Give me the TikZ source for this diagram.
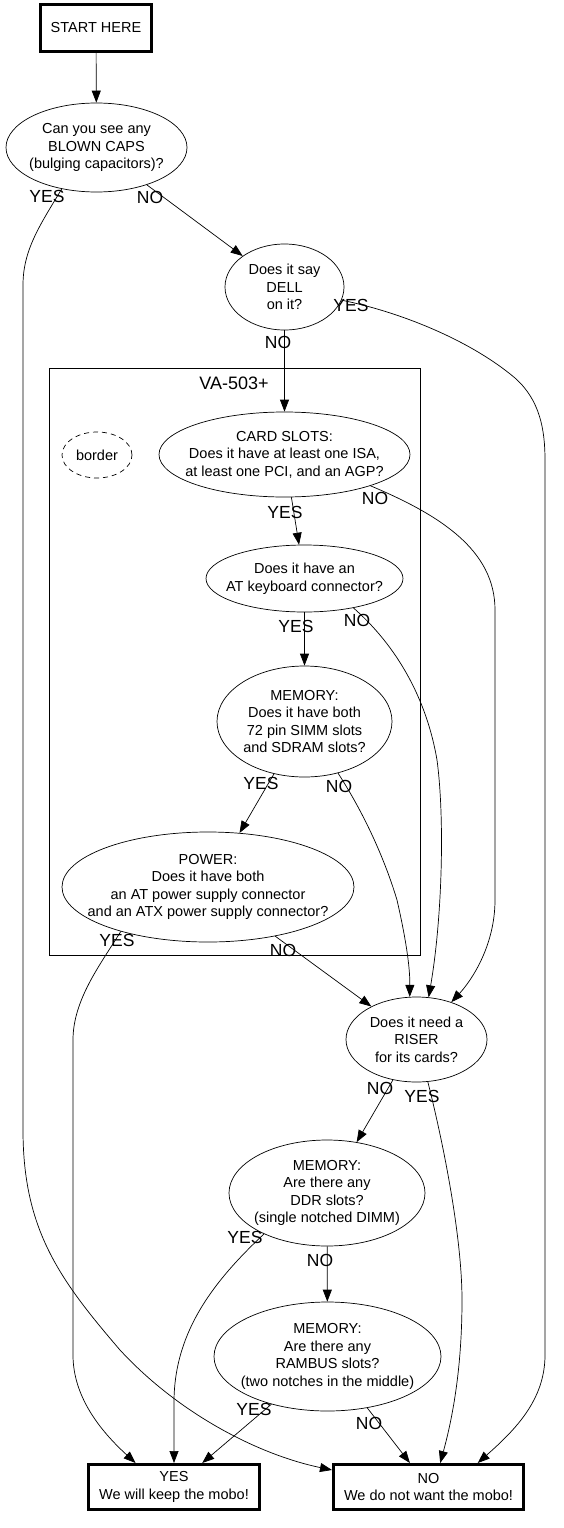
\documentclass[tikz,border=0pt]{standalone}
\usepackage{fontspec}
\setmainfont{Liberation Sans}
\usetikzlibrary{shapes.geometric,arrows.meta}
\begin{document}
\begin{tikzpicture}[x=1pt,y=-1pt,
  every node/.style={font=\fontsize{14.5}{17.5}\selectfont},
  q/.style={ellipse, draw, line width=0.7pt, inner sep=0pt},
  qtext/.style={align=center, inner sep=0pt},
  term/.style={rectangle, draw, line width=3pt, inner sep=0pt, align=center},
  lbl/.style={font=\fontsize{17.5}{18}\selectfont, inner sep=0pt},
  arr/.style={-{Triangle[length=12pt,width=9pt]}, line width=0.7pt},
]
\useasboundingbox (0,0) rectangle (564,1528);

% cluster
\node[draw, line width=0.7pt, minimum width=371pt, minimum height=587pt, inner sep=0pt] (cluster) at (234.5,661.5) {};
\node[font=\fontsize{18}{18}\selectfont, inner sep=0pt] (clabel) at (234,383) {VA-503+};
\node[ellipse, draw, dashed, dash pattern=on 5pt off 4pt, line width=0.7pt, minimum width=70pt, minimum height=46pt, inner sep=0pt] (border) at (97,455) {border};

% nodes
\node[term, minimum width=111pt, minimum height=47pt] (start) at (96,28) {START HERE};
\node[q, minimum width=181pt, minimum height=89pt,
  label={[qtext]center:{Can you see any\\BLOWN CAPS\\(bulging capacitors)?}}] (blown) at (96.5,147.5) {};
\node[q, minimum width=119pt, minimum height=86pt,
  label={[qtext]center:{Does it say\\DELL\\on it?}}] (dell) at (284.5,287) {};
\node[q, minimum width=251pt, minimum height=85pt,
  label={[qtext]center:{CARD SLOTS:\\Does it have at least one ISA,\\at least one PCI, and an AGP?}}] (card) at (284.5,454.5) {};
\node[q, minimum width=197pt, minimum height=67pt,
  label={[qtext]center:{Does it have an\\AT keyboard connector?}}] (atkb) at (304.5,578.5) {};
\node[q, minimum width=175pt, minimum height=111pt,
  label={[qtext]center:{MEMORY:\\Does it have both\\72 pin SIMM slots\\and SDRAM slots?}}] (mem) at (304.5,721.5) {};
\node[q, minimum width=292pt, minimum height=110pt,
  label={[qtext]center:{POWER:\\Does it have both\\an AT power supply connector\\and an ATX power supply connector?}}] (power) at (208,887) {};
\node[q, minimum width=141pt, minimum height=85pt,
  label={[qtext]center:{Does it need a\\RISER\\for its cards?}}] (riser) at (416.5,1039.5) {};
\node[q, minimum width=196pt, minimum height=106pt,
  label={[qtext]center:{MEMORY:\\Are there any\\DDR slots?\\(single notched DIMM)}}] (ddr) at (327,1193) {};
\node[q, minimum width=227pt, minimum height=109pt,
  label={[qtext]center:{MEMORY:\\Are there any\\RAMBUS slots?\\(two notches in the middle)}}] (rambus) at (327.5,1356.5) {};
\node[term, minimum width=171pt, minimum height=45pt] (yesbox) at (174,1487) {YES\\We will keep the mobo!};
\node[term, minimum width=190pt, minimum height=45pt] (nobox) at (428.5,1487) {NO\\We do not want the mobo!};

% straight edges
\draw[arr] (start) -- (blown);
\draw[arr] (blown) -- (dell);
\draw[arr] (dell) -- (card);
\draw[arr] (card) -- (atkb);
\draw[arr] (atkb) -- (mem);
\draw[arr] (mem) -- (power);
\draw[arr] (power) -- (riser);
\draw[arr] (riser) -- (ddr);
\draw[arr] (ddr) -- (rambus);
\draw[arr] (rambus) -- (yesbox);
\draw[arr] (rambus) -- (nobox);

% curved edges
\draw[arr] (blown.230) .. controls (40,225) and (23,250) .. (23,285) -- (23,1130)
  .. controls (23,1230) and (60,1280) .. (120,1350) .. controls (180,1415) and (260,1455) .. (nobox.170);
\draw[arr] (dell.347) .. controls (400,312) and (470,340) .. (515,378) .. controls (540,400) and (545,430) .. (545,460)
  -- (545,1355) .. controls (545,1400) and (515,1430) .. (nobox.26);
\draw[arr] (card.340) .. controls (440,515) and (495,550) .. (495,610) -- (495,900)
  .. controls (495,945) and (472,980) .. (riser.47);
\draw[arr] (atkb.329) .. controls (390,640) and (425,690) .. (437,760) .. controls (445,820) and (442,920) .. (riser.74);
\draw[arr] (mem.303) .. controls (365,815) and (385,860) .. (397,900) .. controls (405,935) and (410,965) .. (riser.99);
\draw[arr] (power.207) .. controls (100,965) and (73,1000) .. (73,1040) -- (73,1355)
  .. controls (73,1400) and (105,1435) .. (yesbox.148);
\draw[arr] (ddr.213) .. controls (215,1280) and (175,1330) .. (174,1400) -- (yesbox.north);
\draw[arr] (riser.285) .. controls (445,1150) and (462,1240) .. (462,1300) .. controls (462,1370) and (452,1420) .. (nobox.64);

% edge labels
\node[lbl] (lblownyes) at (47,196) {YES};
\node[lbl] (lblownno) at (150,197) {NO};
\node[lbl] (ldellyes) at (351,305) {YES};
\node[lbl] (ldellno) at (278,342) {NO};
\node[lbl] (lcardyes) at (285,512) {YES};
\node[lbl] (lcardno) at (375,498) {NO};
\node[lbl] (latkbyes) at (296,626) {YES};
\node[lbl] (latkbno) at (357,620) {NO};
\node[lbl] (lmemyes) at (261,783) {YES};
\node[lbl] (lmemno) at (339,786) {NO};
\node[lbl] (lpoweryes) at (117,940) {YES};
\node[lbl] (lpowerno) at (283,950) {NO};
\node[lbl] (lriserno) at (380,1088) {NO};
\node[lbl] (lriseryes) at (422,1096) {YES};
\node[lbl] (lddryes) at (245,1237) {YES};
\node[lbl] (lddrno) at (320,1260) {NO};
\node[lbl] (lrambusyes) at (254,1409) {YES};
\node[lbl] (lrambusno) at (369,1423) {NO};
\end{tikzpicture}
\end{document}
